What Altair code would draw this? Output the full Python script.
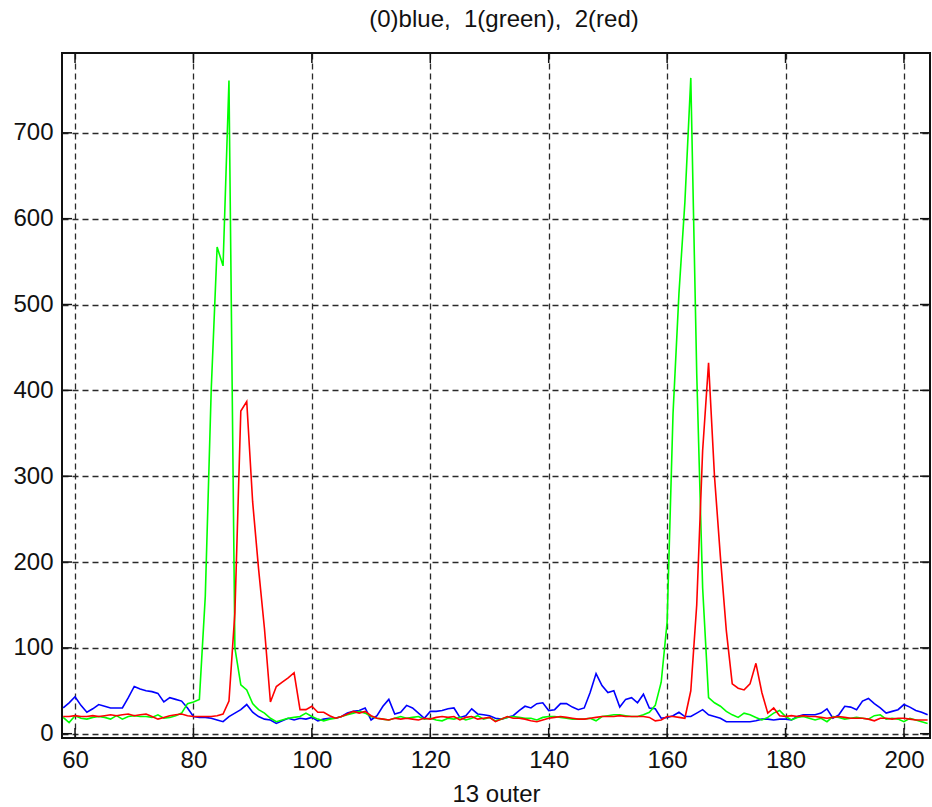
import altair as alt
import pandas as pd

# sample index along the scan
x_vals = list(range(58, 205))

# channel 0 (blue)
blue = [30, 36, 43, 33, 25, 29, 34, 32, 30, 30,
        30, 42, 55, 52, 50, 49, 47, 37, 42, 40,
        38, 30, 20, 19, 19, 18, 16, 14, 20, 24,
        28, 34, 25, 20, 17, 16, 12, 15, 18, 16,
        18, 17, 19, 15, 17, 18, 18, 20, 24, 26,
        27, 30, 16, 21, 32, 40, 23, 25, 33, 30,
        24, 18, 26, 26, 27, 29, 30, 19, 21, 29,
        23, 22, 21, 18, 17, 19, 21, 27, 32, 30,
        35, 36, 27, 28, 35, 35, 31, 28, 30, 48,
        70, 56, 48, 50, 31, 40, 42, 36, 46, 30,
        29, 18, 19, 21, 25, 20, 20, 24, 28, 22,
        20, 18, 14, 14, 14, 14, 14, 15, 17, 17,
        16, 17, 17, 16, 20, 22, 22, 22, 24, 29,
        18, 22, 32, 31, 28, 38, 41, 35, 30, 24,
        26, 28, 34, 31, 27, 25, 22]

# channel 1 (green)
green = [19, 13, 21, 18, 17, 19, 20, 19, 17, 21,
         17, 20, 21, 20, 20, 19, 22, 18, 19, 21,
         24, 35, 37, 40, 160, 400, 567, 545, 761, 100,
         57, 51, 35, 28, 24, 18, 14, 16, 18, 19,
         20, 24, 20, 17, 15, 17, 18, 20, 22, 24,
         26, 24, 20, 18, 17, 16, 18, 20, 18, 19,
         20, 17, 18, 16, 15, 18, 17, 19, 16, 18,
         21, 17, 19, 15, 17, 19, 20, 19, 18, 18,
         16, 19, 20, 20, 19, 18, 17, 17, 17, 18,
         15, 20, 21, 22, 22, 21, 20, 20, 22, 25,
         33, 60, 130, 373, 513, 619, 764, 420, 170, 42,
         36, 32, 26, 22, 19, 24, 22, 19, 16, 19,
         24, 27, 20, 16, 19, 20, 18, 16, 18, 14,
         20, 19, 17, 18, 19, 18, 17, 21, 22, 17,
         18, 17, 14, 18, 16, 14, 12]

# channel 2 (red)
red = [20, 20, 21, 20, 20, 21, 20, 21, 22, 21,
       22, 23, 21, 22, 23, 20, 17, 19, 21, 22,
       23, 21, 20, 20, 20, 20, 21, 23, 38, 141,
       376, 387, 270, 192, 122, 37, 55, 60, 65, 71,
       28, 28, 32, 25, 25, 21, 18, 20, 23, 26,
       24, 26, 21, 18, 17, 16, 18, 17, 18, 17,
       16, 18, 17, 19, 20, 19, 20, 16, 19, 20,
       17, 18, 19, 14, 17, 20, 18, 18, 17, 15,
       14, 16, 18, 19, 20, 19, 18, 17, 17, 18,
       19, 20, 20, 20, 21, 20, 20, 20, 20, 19,
       15, 16, 20, 20, 19, 18, 50, 150, 330, 432,
       300, 206, 120, 58, 53, 51, 58, 82, 48, 24,
       30, 21, 20, 21, 20, 21, 20, 20, 19, 18,
       19, 20, 19, 18, 18, 18, 17, 15, 18, 18,
       17, 18, 18, 17, 16, 16, 16]

x_ticks = [60, 80, 100, 120, 140, 160, 180, 200]
y_ticks = [0, 100, 200, 300, 400, 500, 600, 700]

W, H = 868, 685
TICK = 10
FONT = "Liberation Sans, Arial, sans-serif"

df = pd.DataFrame({"x": x_vals, "blue": blue, "green": green, "red": red})
xt = pd.DataFrame({"t": x_ticks})
yt = pd.DataFrame({"t": y_ticks})

x_scale = alt.Scale(domain=[57.8, 204.4], nice=False, zero=False)
y_scale = alt.Scale(domain=[-5, 793], nice=False, zero=False)

grid_style = dict(grid=True, gridColor="#2a2a2a", gridDash=[6, 4], gridWidth=1.3,
                  gridOpacity=1, ticks=False, tickSize=0, domain=False,
                  labelFont=FONT, labelFontSize=24, labelColor="#111",
                  titleFont=FONT, titleFontSize=24, titleColor="#111",
                  titleFontWeight="normal")

x_axis = alt.Axis(values=x_ticks, title="13 outer", labelPadding=10,
                  titlePadding=10, labelFlush=False, **grid_style)
y_axis = alt.Axis(values=y_ticks, title=None, labelPadding=9, **grid_style)


def trace(field, color):
    return alt.Chart(df).mark_line(color=color, strokeWidth=1.6, clip=True).encode(
        x=alt.X("x:Q", scale=x_scale, axis=x_axis),
        y=alt.Y(f"{field}:Q", scale=y_scale, axis=y_axis),
    )


# inward tick marks on all four sides of the box
tick_rule = dict(color="#111", strokeWidth=1.5)
ticks_bottom = alt.Chart(xt).mark_rule(**tick_rule).encode(
    x=alt.X("t:Q", scale=x_scale, axis=x_axis), y=alt.value(H), y2=alt.value(H - TICK))
ticks_top = alt.Chart(xt).mark_rule(**tick_rule).encode(
    x=alt.X("t:Q", scale=x_scale, axis=x_axis), y=alt.value(0), y2=alt.value(TICK))
ticks_left = alt.Chart(yt).mark_rule(**tick_rule).encode(
    y=alt.Y("t:Q", scale=y_scale, axis=y_axis), x=alt.value(0), x2=alt.value(TICK))
ticks_right = alt.Chart(yt).mark_rule(**tick_rule).encode(
    y=alt.Y("t:Q", scale=y_scale, axis=y_axis), x=alt.value(W), x2=alt.value(W - TICK))

chart = alt.layer(
    trace("blue", "#0000ff"),
    trace("green", "#00ff00"),
    trace("red", "#ff0000"),
    ticks_bottom, ticks_top, ticks_left, ticks_right,
).properties(
    width=W,
    height=H,
    title=alt.TitleParams("(0)blue,\u00a0 1(green),\u00a0 2(red)", font=FONT,
                          fontSize=24, fontWeight="normal", color="#111",
                          anchor="middle", offset=20, dx=8),
    autosize=alt.AutoSizeParams(type="none"),
    padding={"left": 62, "top": 53, "right": 2, "bottom": 69},
    background="white",
).configure_view(stroke="#111", strokeWidth=2)

chart.save("out.html", embed_options={"renderer": "svg", "actions": False})
